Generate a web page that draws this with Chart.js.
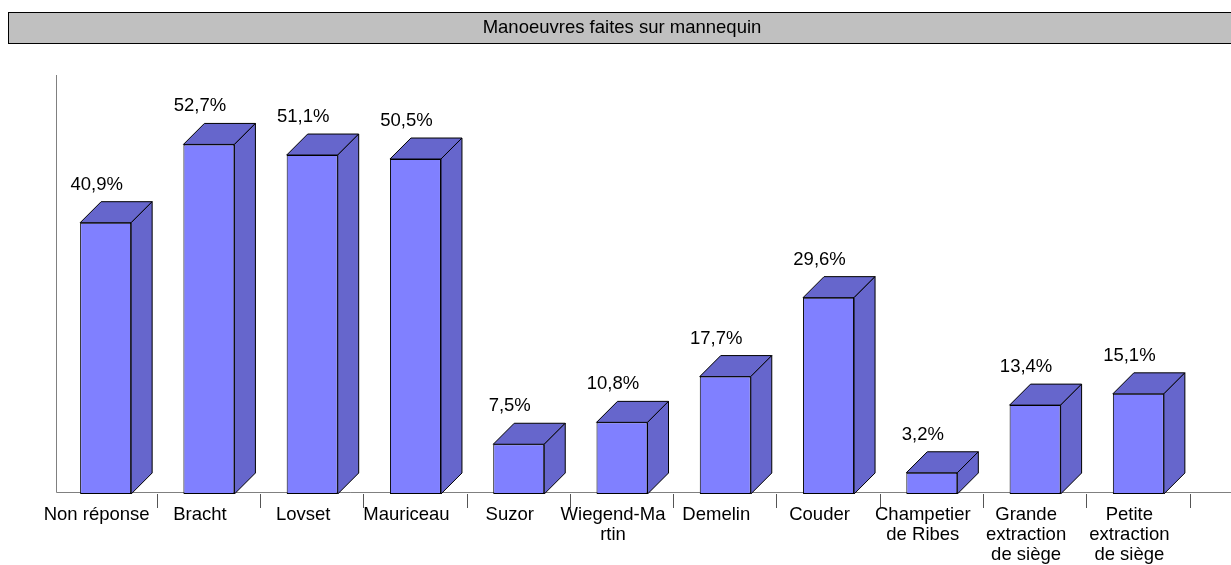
<!DOCTYPE html>
<html>
<head>
<meta charset="utf-8">
<script src="https://cdn.jsdelivr.net/npm/chart.js@4/dist/chart.umd.min.js"></script>
<style>
html,body{margin:0;padding:0;background:#fff;}
#wrap{width:1231px;height:565px;position:relative;}
</style>
</head>
<body>
<div id="wrap"><canvas id="c" width="1231" height="565"></canvas></div>
<script>
const titleText = 'Manoeuvres faites sur mannequin';
const categories = ['Non réponse','Bracht','Lovset','Mauriceau','Suzor',['Wiegend-Ma','rtin'],'Demelin','Couder',['Champetier','de Ribes'],['Grande','extraction','de siège'],['Petite','extraction','de siège']];
const values = [40.9,52.7,51.1,50.5,7.5,10.8,17.7,29.6,3.2,13.4,15.1];
const valueLabels = ['40,9%','52,7%','51,1%','50,5%','7,5%','10,8%','17,7%','29,6%','3,2%','13,4%','15,1%'];

const FONT = 'Liberation Sans, Arial, sans-serif';
const FSIZE = 18.5;
const DEPTH = 21;
const SHIFT = -9;

const bgPlugin = {
  id: 'bg',
  beforeDraw(chart) {
    const ctx = chart.ctx;
    ctx.save();
    ctx.fillStyle = '#C0C0C0';
    ctx.fillRect(8.5, 12.5, 1230, 31);
    ctx.strokeStyle = '#000';
    ctx.lineWidth = 1;
    ctx.strokeRect(8.5, 12.5, 1230, 31);
    ctx.restore();
  },
  beforeDatasetsDraw(chart) {
    const ctx = chart.ctx;
    const area = chart.chartArea;
    const yl = Math.round(area.bottom) - 2 + 0.5;
    ctx.save();
    ctx.strokeStyle = '#808080';
    ctx.lineWidth = 1;
    ctx.beginPath();
    ctx.moveTo(56.5, 75);
    ctx.lineTo(56.5, yl);
    ctx.lineTo(1231, yl);
    ctx.stroke();
    ctx.restore();
  }
};

const bar3d = {
  id: 'bar3d',
  afterDatasetsDraw(chart) {
    const ctx = chart.ctx;
    const meta = chart.getDatasetMeta(0);
    ctx.save();
    ctx.lineWidth = 1;
    ctx.strokeStyle = '#000';
    meta.data.forEach((bar, i) => {
      const p = bar.getProps(['x','y','width','base'], true);
      const l = p.x - p.width/2, r = p.x + p.width/2, t = p.y, b = p.base;
      ctx.fillStyle = '#6666CC';
      ctx.beginPath();
      ctx.moveTo(l, t);
      ctx.lineTo(l + DEPTH, t - DEPTH);
      ctx.lineTo(r + DEPTH, t - DEPTH);
      ctx.lineTo(r, t);
      ctx.closePath();
      ctx.fill(); ctx.stroke();
      ctx.beginPath();
      ctx.moveTo(r, t);
      ctx.lineTo(r + DEPTH, t - DEPTH);
      ctx.lineTo(r + DEPTH, b - DEPTH);
      ctx.lineTo(r, b);
      ctx.closePath();
      ctx.fill(); ctx.stroke();
      ctx.fillStyle = '#000';
      ctx.font = FSIZE + 'px ' + FONT;
      ctx.textAlign = 'center';
      ctx.textBaseline = 'alphabetic';
      ctx.fillText(valueLabels[i], p.x + SHIFT, t - DEPTH - 12);
    });
    ctx.restore();
  }
};

new Chart(document.getElementById('c'), {
  type: 'bar',
  data: {
    labels: categories,
    datasets: [{
      data: values,
      backgroundColor: '#8080FF',
      borderColor: '#000',
      borderWidth: 1,
      borderSkipped: false,
      categoryPercentage: 1,
      barPercentage: 0.494
    }]
  },
  options: {
    responsive: false,
    animation: false,
    events: [],
    layout: { padding: { left: 54, right: 41, top: 0, bottom: 0 } },
    plugins: {
      legend: { display: false },
      tooltip: { enabled: false },
      title: {
        display: true,
        text: titleText,
        color: '#000',
        font: { family: FONT, size: FSIZE, weight: 'normal', lineHeight: 1.2 },
        padding: { top: 17, bottom: 56.8 }
      }
    },
    scales: {
      y: { display: false, min: 0, max: 60 },
      x: {
        offset: true,
        afterFit(scale) { scale.height = 71; },
        border: { display: false },
        grid: {
          offset: true,
          drawOnChartArea: false,
          drawTicks: true,
          tickLength: 14,
          color: (c) => c.index === 0 ? 'rgba(0,0,0,0)' : '#555'
        },
        ticks: {
          color: '#000',
          autoSkip: false,
          maxRotation: 0,
          minRotation: 0,
          padding: -3,
          labelOffset: SHIFT,
          font: { family: FONT, size: FSIZE, lineHeight: 1.08 }
        }
      }
    }
  },
  plugins: [bgPlugin, bar3d]
});
</script>
</body>
</html>
